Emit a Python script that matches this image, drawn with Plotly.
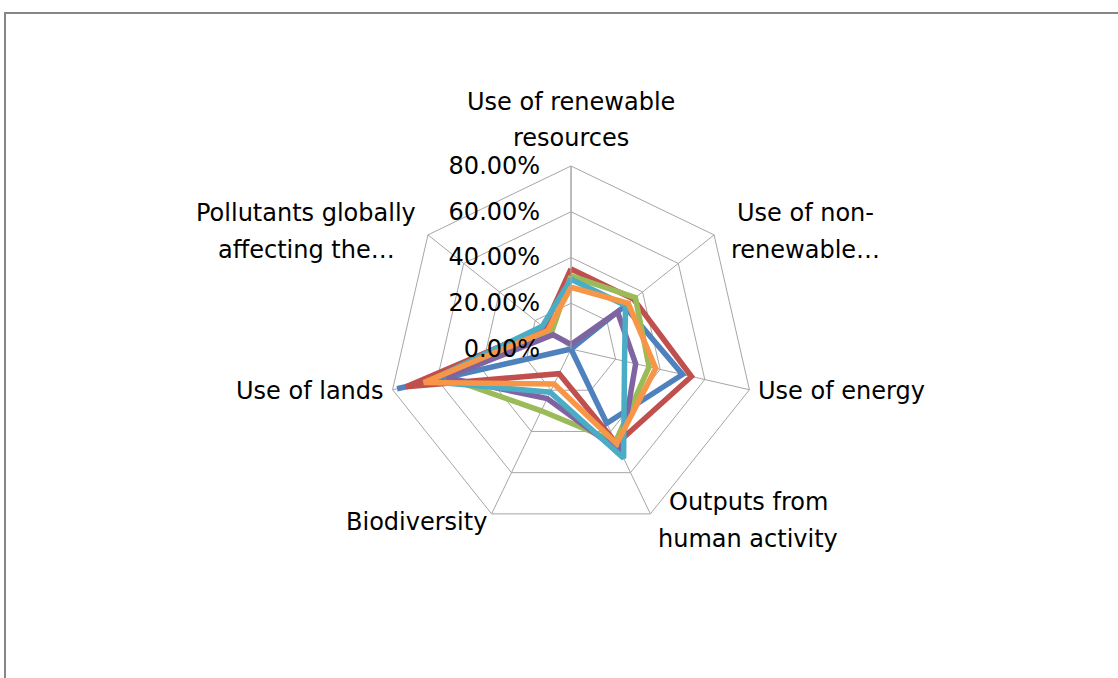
import plotly.graph_objects as go

# Indicator axes, clockwise from the top
categories = [
    "Use of renewable resources",
    "Use of non-renewable resources",
    "Use of energy",
    "Outputs from human activity",
    "Biodiversity",
    "Use of lands",
    "Pollutants globally affecting the environment",
]

# Axis captions as shown around the chart (wrapped / truncated), one list per axis
category_captions = [
    ["Use of renewable", "resources"],
    ["Use of non-", "renewable…"],
    ["Use of energy"],
    ["Outputs from", "human activity"],
    ["Biodiversity"],
    ["Use of lands"],
    ["Pollutants globally", "affecting the…"],
]

# Share of each indicator per series (fractions)
series_blue = [0.00, 0.30, 0.50, 0.36, 0.00, 0.78, 0.00]
series_red = [0.35, 0.35, 0.54, 0.46, 0.12, 0.74, 0.15]
series_green = [0.32, 0.36, 0.35, 0.45, 0.30, 0.56, 0.11]
series_purple = [0.02, 0.26, 0.29, 0.50, 0.24, 0.56, 0.10]
series_cyan = [0.305, 0.305, 0.24, 0.53, 0.21, 0.64, 0.16]
series_orange = [0.27, 0.32, 0.38, 0.46, 0.17, 0.66, 0.13]

radial_ticks = [0.0, 0.2, 0.4, 0.6, 0.8]

series = [
    ("Series1", series_blue, "#4F81BD"),
    ("Series2", series_red, "#C0504D"),
    ("Series3", series_green, "#9BBB59"),
    ("Series4", series_purple, "#8064A2"),
    ("Series5", series_cyan, "#4BACC6"),
    ("Series6", series_orange, "#F79646"),
]

FONT = "DejaVu Sans"
FS = 24
LINE_GAP = 37  # px between caption lines

fig = go.Figure()
for name, vals, color in series:
    fig.add_trace(go.Scatterpolar(
        r=vals + vals[:1],
        theta=categories + categories[:1],
        mode="lines",
        name=name,
        line=dict(color=color, width=5.5),
        showlegend=False,
    ))

W, H = 1118, 678
cx, cy, R = 571, 349, 183

# Caption block placement around the web: (x, y-centre, xanchor) in pixels
caption_pos = [
    (571, 120, "center"),
    (805, 231, "center"),
    (756, 391, "left"),
    (748, 520, "center"),
    (489, 522, "right"),
    (386, 391, "right"),
    (306, 231, "center"),
]

annotations = []
for lines, (px, py, xa) in zip(category_captions, caption_pos):
    n = len(lines)
    for i, line in enumerate(lines):
        ly = py + (i - (n - 1) / 2) * LINE_GAP
        annotations.append(dict(
            text=line, x=px / W, y=1 - ly / H, xref="paper", yref="paper",
            xanchor=xa, yanchor="middle", showarrow=False,
            font=dict(family=FONT, size=FS, color="#000000"),
        ))

fig.update_layout(
    width=W,
    height=H,
    margin=dict(l=0, r=0, t=0, b=0),
    paper_bgcolor="white",
    plot_bgcolor="white",
    font=dict(family=FONT, size=FS, color="#000000"),
    annotations=annotations,
    polar=dict(
        domain=dict(
            x=[(cx - R) / W, (cx + R) / W],
            y=[(H - cy - R) / H, (H - cy + R) / H],
        ),
        bgcolor="white",
        gridshape="linear",
        angularaxis=dict(
            direction="clockwise",
            rotation=90,
            showline=True,
            linecolor="#A6A6A6",
            linewidth=1,
            gridcolor="#A6A6A6",
            gridwidth=1,
            ticks="",
            showticklabels=False,
        ),
        radialaxis=dict(
            range=[0, 0.8],
            tickvals=radial_ticks,
            tickformat=".2%",
            angle=90,
            tickangle=90,
            side="counterclockwise",
            showline=True,
            linecolor="#A6A6A6",
            linewidth=1,
            gridcolor="#A6A6A6",
            gridwidth=1,
            ticks="outside",
            ticklen=22,
            tickcolor="rgba(0,0,0,0)",
            tickfont=dict(family=FONT, size=FS, color="#000000"),
        ),
    ),
    shapes=[
        dict(
            type="rect", xref="paper", yref="paper",
            x0=5 / W, x1=1.05, y0=-0.05, y1=(H - 13) / H,
            line=dict(color="#868686", width=2),
            fillcolor="rgba(0,0,0,0)",
            layer="below",
        )
    ],
)

fig.write_html("out.html")
